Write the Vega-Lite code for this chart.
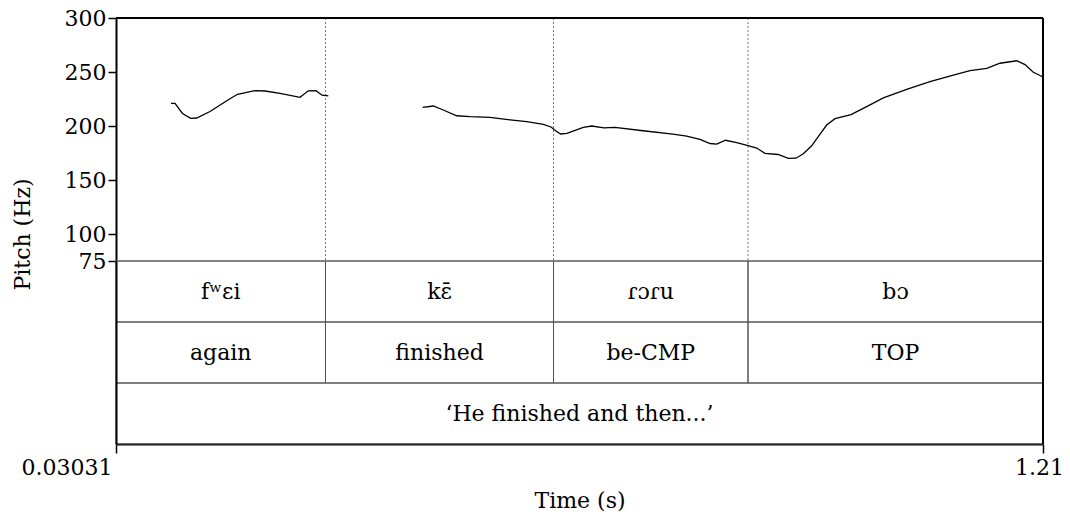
{
  "$schema": "https://vega.github.io/schema/vega-lite/v6.json",
  "padding": {"left": 11, "top": 7, "right": 5, "bottom": 0},
  "background": "white",
  "spacing": 0,
  "bounds": "flush",
  "config": {
    "view": {"stroke": null},
    "font": "DejaVu Serif",
    "axis": {
      "labelFont": "DejaVu Serif",
      "titleFont": "DejaVu Serif",
      "labelFontSize": 22,
      "titleFontSize": 22,
      "labelColor": "black",
      "titleColor": "black",
      "titleFontWeight": "normal",
      "grid": false
    },
    "text": {"font": "DejaVu Serif"}
  },
  "datasets": {
    "pitch": [
      {"seg": 1, "time": 0.1003, "pitch": 221.0},
      {"seg": 1, "time": 0.1054, "pitch": 221.0},
      {"seg": 1, "time": 0.1149, "pitch": 211.6},
      {"seg": 1, "time": 0.1254, "pitch": 207.1},
      {"seg": 1, "time": 0.1330, "pitch": 207.4},
      {"seg": 1, "time": 0.1499, "pitch": 213.4},
      {"seg": 1, "time": 0.1728, "pitch": 224.1},
      {"seg": 1, "time": 0.1849, "pitch": 229.4},
      {"seg": 1, "time": 0.2072, "pitch": 232.7},
      {"seg": 1, "time": 0.2199, "pitch": 232.4},
      {"seg": 1, "time": 0.2390, "pitch": 230.3},
      {"seg": 1, "time": 0.2645, "pitch": 226.6},
      {"seg": 1, "time": 0.2750, "pitch": 232.6},
      {"seg": 1, "time": 0.2848, "pitch": 232.7},
      {"seg": 1, "time": 0.2925, "pitch": 228.5},
      {"seg": 1, "time": 0.3005, "pitch": 227.8},
      {"seg": 2, "time": 0.4206, "pitch": 217.3},
      {"seg": 2, "time": 0.4341, "pitch": 218.5},
      {"seg": 2, "time": 0.4468, "pitch": 214.8},
      {"seg": 2, "time": 0.4639, "pitch": 209.5},
      {"seg": 2, "time": 0.4808, "pitch": 208.6},
      {"seg": 2, "time": 0.5063, "pitch": 207.9},
      {"seg": 2, "time": 0.5317, "pitch": 205.6},
      {"seg": 2, "time": 0.5530, "pitch": 204.0},
      {"seg": 2, "time": 0.5741, "pitch": 201.6},
      {"seg": 2, "time": 0.5839, "pitch": 199.1},
      {"seg": 2, "time": 0.5902, "pitch": 195.4},
      {"seg": 2, "time": 0.5962, "pitch": 192.6},
      {"seg": 2, "time": 0.6042, "pitch": 193.1},
      {"seg": 2, "time": 0.6250, "pitch": 198.8},
      {"seg": 2, "time": 0.6357, "pitch": 200.0},
      {"seg": 2, "time": 0.6513, "pitch": 198.3},
      {"seg": 2, "time": 0.6653, "pitch": 198.8},
      {"seg": 2, "time": 0.7010, "pitch": 195.6},
      {"seg": 2, "time": 0.7391, "pitch": 192.4},
      {"seg": 2, "time": 0.7566, "pitch": 190.7},
      {"seg": 2, "time": 0.7735, "pitch": 187.7},
      {"seg": 2, "time": 0.7862, "pitch": 183.8},
      {"seg": 2, "time": 0.7948, "pitch": 183.3},
      {"seg": 2, "time": 0.8060, "pitch": 186.8},
      {"seg": 2, "time": 0.8202, "pitch": 184.7},
      {"seg": 2, "time": 0.8346, "pitch": 181.9},
      {"seg": 2, "time": 0.8457, "pitch": 179.6},
      {"seg": 2, "time": 0.8562, "pitch": 174.7},
      {"seg": 2, "time": 0.8728, "pitch": 173.6},
      {"seg": 2, "time": 0.8859, "pitch": 170.1},
      {"seg": 2, "time": 0.8957, "pitch": 170.2},
      {"seg": 2, "time": 0.9050, "pitch": 174.3},
      {"seg": 2, "time": 0.9156, "pitch": 181.7},
      {"seg": 2, "time": 0.9249, "pitch": 191.2},
      {"seg": 2, "time": 0.9347, "pitch": 200.9},
      {"seg": 2, "time": 0.9453, "pitch": 206.8},
      {"seg": 2, "time": 0.9657, "pitch": 210.6},
      {"seg": 2, "time": 0.9856, "pitch": 217.9},
      {"seg": 2, "time": 1.0068, "pitch": 226.1},
      {"seg": 2, "time": 1.0365, "pitch": 234.0},
      {"seg": 2, "time": 1.0662, "pitch": 241.0},
      {"seg": 2, "time": 1.0959, "pitch": 247.2},
      {"seg": 2, "time": 1.1171, "pitch": 251.2},
      {"seg": 2, "time": 1.1384, "pitch": 253.4},
      {"seg": 2, "time": 1.1553, "pitch": 258.1},
      {"seg": 2, "time": 1.1766, "pitch": 260.4},
      {"seg": 2, "time": 1.1871, "pitch": 256.9},
      {"seg": 2, "time": 1.1973, "pitch": 250.0},
      {"seg": 2, "time": 1.2100, "pitch": 245.4}
    ],
    "tiers": [
      {"tier": "phonetic", "start": 0.03031, "end": 0.2969, "label": "fʷɛi"},
      {"tier": "phonetic", "start": 0.2969, "end": 0.5871, "label": "kɛ̄"},
      {"tier": "phonetic", "start": 0.5871, "end": 0.8346, "label": "ɾɔɾu"},
      {"tier": "phonetic", "start": 0.8346, "end": 1.21, "label": "bɔ"},
      {"tier": "gloss", "start": 0.03031, "end": 0.2969, "label": "again"},
      {"tier": "gloss", "start": 0.2969, "end": 0.5871, "label": "finished"},
      {"tier": "gloss", "start": 0.5871, "end": 0.8346, "label": "be-CMP"},
      {"tier": "gloss", "start": 0.8346, "end": 1.21, "label": "TOP"},
      {"tier": "translation", "start": 0.03031, "end": 1.21, "label": "‘He finished and then...’"}
    ]
  },
  "vconcat": [
    {
      "width": 927,
      "height": 243,
      "layer": [
        {
          "data": {"name": "tiers"},
          "transform": [{"filter": "datum.tier == 'phonetic' && datum.start > 0.031"}],
          "mark": {"type": "rule", "strokeDash": [2, 2], "color": "#777", "strokeWidth": 1},
          "encoding": {
            "x": {"field": "start", "type": "quantitative", "scale": {"domain": [0.03031, 1.21], "nice": false, "zero": false}, "axis": null}
          }
        },
        {
          "data": {"name": "pitch"},
          "mark": {"type": "line", "color": "black", "strokeWidth": 1.3},
          "encoding": {
            "x": {"field": "time", "type": "quantitative", "scale": {"domain": [0.03031, 1.21], "nice": false, "zero": false}, "axis": null},
            "y": {
              "field": "pitch",
              "type": "quantitative",
              "scale": {"domain": [75, 300], "nice": false, "zero": false},
              "axis": {
                "values": [75, 100, 150, 200, 250, 300],
                "title": "Pitch (Hz)",
                "domainColor": "black",
                "domainWidth": 2,
                "tickColor": "black",
                "tickWidth": 1.5,
                "tickSize": 8,
                "labelPadding": 2,
                "titleX": -94,
                "titleY": 216,
                "titleAngle": 270,
                "titleAlign": "center",
                "titleBaseline": "middle"
              }
            },
            "detail": {"field": "seg", "type": "nominal"}
          }
        },
        {
          "data": {"values": [{}]},
          "mark": {"type": "rule", "color": "#666", "strokeWidth": 1},
          "encoding": {"y": {"datum": 75}}
        },
        {
          "data": {"values": [{}]},
          "mark": {"type": "rule", "color": "black", "strokeWidth": 2},
          "encoding": {"y": {"datum": 300}}
        },
        {
          "data": {"values": [{}]},
          "mark": {"type": "rule", "color": "black", "strokeWidth": 2},
          "encoding": {"x": {"datum": 1.21}}
        }
      ]
    },
    {
      "width": 927,
      "height": 183,
      "data": {"name": "tiers"},
      "layer": [
        {
          "mark": {"type": "rect", "fill": "transparent", "stroke": "#555", "strokeWidth": 1},
          "encoding": {
            "x": {
              "field": "start",
              "type": "quantitative",
              "scale": {"domain": [0.03031, 1.21], "nice": false, "zero": false},
              "axis": {
                "values": [0.03031, 1.21],
                "format": ".5~f",
                "title": "Time (s)",
                "labelFlush": false,
                "labelAlign": {"condition": {"test": "datum.value < 0.5", "value": "right"}, "value": "center"},
                "labelOffset": -4,
                "tickSize": 9,
                "tickColor": "black",
                "tickWidth": 1.5,
                "domainColor": "black",
                "domainWidth": 2,
                "labelPadding": 4,
                "titlePadding": 12
              }
            },
            "x2": {"field": "end"},
            "y": {
              "field": "tier",
              "type": "nominal",
              "scale": {"domain": ["phonetic", "gloss", "translation"], "paddingInner": 0, "paddingOuter": 0},
              "axis": {"labels": false, "ticks": false, "title": null, "domainColor": "black", "domainWidth": 2}
            }
          }
        },
        {
          "transform": [{"calculate": "(datum.start + datum.end) / 2", "as": "mid"}],
          "mark": {"type": "text", "fontSize": 22, "font": "DejaVu Serif", "color": "black", "baseline": "middle"},
          "encoding": {
            "x": {"field": "mid", "type": "quantitative"},
            "y": {"field": "tier", "type": "nominal"},
            "text": {"field": "label"}
          }
        },
        {
          "data": {"values": [{}]},
          "mark": {"type": "rule", "color": "black", "strokeWidth": 2},
          "encoding": {"x": {"datum": 1.21}}
        }
      ]
    }
  ]
}
